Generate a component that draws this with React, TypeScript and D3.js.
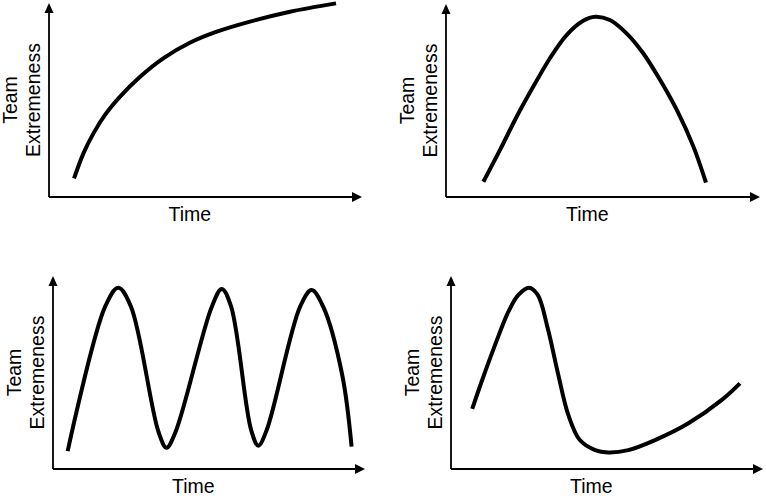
import React, { useEffect, useRef } from 'react';
import * as d3 from 'd3';

// Each curve as [time %, extremeness %] of its axis box
const steadyRise = [
  [8.0, 9.6], [11.0, 22.5], [14.2, 32.8], [17.9, 42.3], [22.7, 51.7], [29.1, 62.0],
  [36.5, 71.5], [45.0, 79.5], [53.6, 85.2], [64.2, 90.4], [77.0, 95.5], [91.7, 99.8]
];

const riseAndFall = [
  [11.9, 7.9], [17.2, 24.4], [22.5, 41.6], [27.8, 57.2], [33.1, 71.9], [38.4, 83.9],
  [43.7, 91.3], [47.5, 93.4], [52.2, 91.7], [57.5, 84.8], [62.8, 74.5], [68.2, 60.6],
  [73.5, 45.1], [78.8, 26.1], [82.8, 7.4]
];

const oscillating = [
  [4.7, 9.3], [16.7, 84.1], [20.9, 93.9], [25.0, 84.1], [33.8, 19.3], [36.4, 11.0],
  [39.3, 19.3], [50.9, 84.1], [54.1, 93.3], [57.1, 84.1], [63.5, 20.2], [65.8, 12.1],
  [68.5, 20.2], [79.2, 84.1], [82.9, 92.7], [86.6, 84.1], [92.7, 48.7], [95.7, 11.6]
];

const spikeAndRecover = [
  [6.8, 31.1], [9.8, 45.2], [14.1, 64.2], [18.4, 81.5], [21.6, 90.2], [25.0, 93.9],
  [27.8, 90.2], [31.0, 72.9], [34.4, 48.7], [37.6, 28.0], [41.3, 15.0], [46.2, 9.8],
  [50.4, 8.6], [56.8, 9.8], [65.4, 15.0], [76.1, 23.7], [86.8, 35.8], [92.6, 44.4]
];

const yLabelLines = ['Team', 'Extremeness'];
const xLabel = 'Time';

// axis origin and arrow tips for the four panels
const panels = [
  { data: steadyRise, x0: 49, x1: 362, y0: 197, y1: 3 },
  { data: riseAndFall, x0: 446, x1: 760, y0: 197, y1: 4 },
  { data: oscillating, x0: 53, x1: 365, y0: 469, y1: 276 },
  { data: spikeAndRecover, x0: 451, x1: 763, y0: 469, y1: 276 }
];

export default function App() {
  const svgRef = useRef<SVGSVGElement>(null);

  useEffect(() => {
    const svg = d3.select(svgRef.current);
    svg.selectAll('*').remove();

    const font = "'Liberation Sans', Arial, Helvetica, sans-serif";

    panels.forEach(p => {
      const x = d3.scaleLinear().domain([0, 100]).range([p.x0, p.x1]);
      const y = d3.scaleLinear().domain([0, 100]).range([p.y0, p.y1]);
      const g = svg.append('g');

      // axes with arrowheads
      g.append('line')
        .attr('x1', x(0)).attr('y1', y(0))
        .attr('x2', x(0)).attr('y2', y(100) + 8)
        .attr('stroke', '#000').attr('stroke-width', 1.8);
      g.append('line')
        .attr('x1', x(0)).attr('y1', y(0))
        .attr('x2', x(100) - 8).attr('y2', y(0))
        .attr('stroke', '#000').attr('stroke-width', 1.8);
      g.append('path')
        .attr('d', `M${x(0)},${y(100)} L${x(0) - 4.5},${y(100) + 10} L${x(0) + 4.5},${y(100) + 10} Z`)
        .attr('fill', '#000');
      g.append('path')
        .attr('d', `M${x(100)},${y(0)} L${x(100) - 10},${y(0) - 5} L${x(100) - 10},${y(0) + 5} Z`)
        .attr('fill', '#000');

      // curve
      const line = d3.line<number[]>()
        .x(d => x(d[0]))
        .y(d => y(d[1]))
        .curve(d3.curveCatmullRom.alpha(0.5));

      g.append('path')
        .datum(p.data)
        .attr('d', line)
        .attr('fill', 'none')
        .attr('stroke', '#000')
        .attr('stroke-width', 4)
        .attr('stroke-linejoin', 'round');

      // labels
      const midY = (y(0) + y(100)) / 2;
      yLabelLines.forEach((txt, i) => {
        g.append('text')
          .attr('transform', `translate(${x(0) - 32 + i * 22.5},${midY}) rotate(-90)`)
          .attr('text-anchor', 'middle')
          .style('font-family', font)
          .style('font-size', '19.5px')
          .attr('fill', '#000')
          .text(txt);
      });

      g.append('text')
        .attr('x', x(45))
        .attr('y', y(0) + 24)
        .attr('text-anchor', 'middle')
        .style('font-family', font)
        .style('font-size', '19.5px')
        .attr('fill', '#000')
        .text(xLabel);
    });
  }, []);

  return (
    <svg
      ref={svgRef}
      width={766}
      height={496}
      style={{ position: 'absolute', left: 0, top: 0, background: '#fff' }}
    />
  );
}
